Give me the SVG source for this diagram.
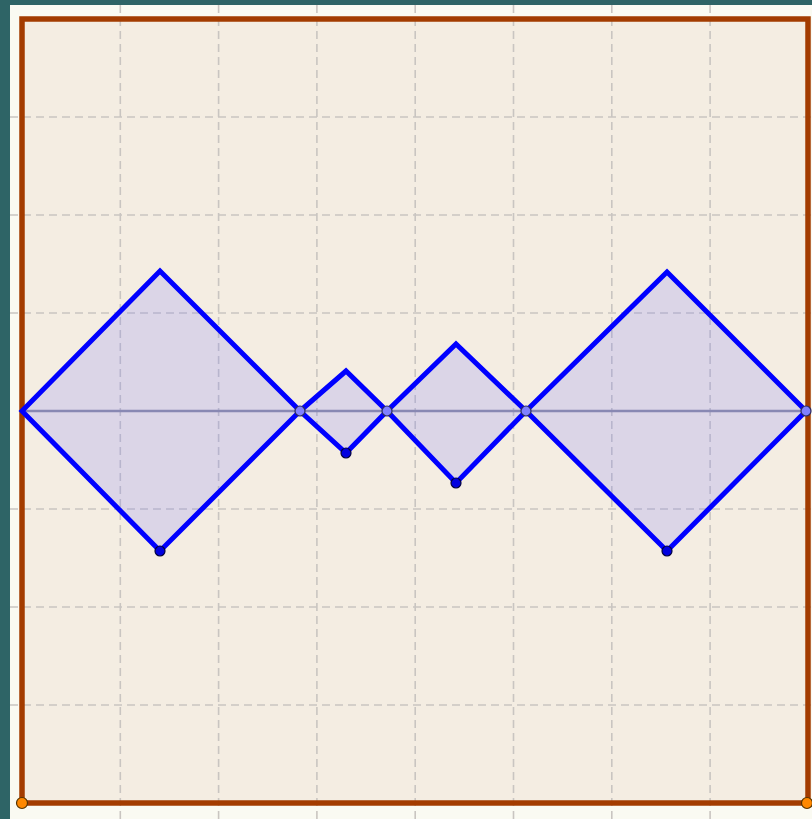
<svg xmlns="http://www.w3.org/2000/svg" width="812" height="819" viewBox="0 0 812 819">
<style>
.grid{stroke:#c9c5c1;stroke-width:1.6;stroke-dasharray:8 5;fill:none}
.frame{stroke:#a33c00;stroke-width:5.5;fill:none;stroke-linecap:square}
.dia{fill:rgb(120,120,255);fill-opacity:0.2;stroke:#0000ff;stroke-width:5;stroke-linejoin:miter}
.axis{stroke:#8c8ca0;stroke-width:2.5}
.pt{fill:#8080ff;stroke:#2a2a60;stroke-width:1.2}
.bp{fill:#0000e0;stroke:#000040;stroke-width:1.2}
.op{fill:#ff8800;stroke:#553300;stroke-width:1.2}
</style>
<rect x="0" y="0" width="812" height="819" fill="#2e6466"/>
<rect x="10" y="5" width="802" height="814" fill="#fafaf2"/>
<rect x="22" y="19" width="786" height="784" fill="#f4ede2"/>
<g id="grid" class="grid">
<line x1="120.3" y1="5" x2="120.3" y2="819"/>
<line x1="218.6" y1="5" x2="218.6" y2="819"/>
<line x1="316.9" y1="5" x2="316.9" y2="819"/>
<line x1="415.2" y1="5" x2="415.2" y2="819"/>
<line x1="513.5" y1="5" x2="513.5" y2="819"/>
<line x1="611.8" y1="5" x2="611.8" y2="819"/>
<line x1="710.1" y1="5" x2="710.1" y2="819"/>
<line x1="10" y1="117" x2="812" y2="117"/>
<line x1="10" y1="215" x2="812" y2="215"/>
<line x1="10" y1="313" x2="812" y2="313"/>
<line x1="10" y1="509" x2="812" y2="509"/>
<line x1="10" y1="607" x2="812" y2="607"/>
<line x1="10" y1="705" x2="812" y2="705"/>
</g>
<g id="frame">
<path class="frame" d="M22 803 L22 19 L808 19 L808 803 Z"/>
</g>
<g id="connectors">
<line id="axis" class="axis" x1="22" y1="411" x2="808" y2="411"/>
</g>
<g id="diamond1"><polygon class="dia" points="22,411 160,271 300,411 160,551"/></g>
<g id="diamond2"><polygon class="dia" points="300,411 346,371 387,411 346,453"/></g>
<g id="diamond3"><polygon class="dia" points="387,411 456,344 526,411 456,483"/></g>
<g id="diamond4"><polygon class="dia" points="526,411 667,272 806,411 667,551"/></g>
<g id="points">
<circle class="pt" cx="300" cy="411" r="5"/>
<circle class="pt" cx="387" cy="411" r="5"/>
<circle class="pt" cx="526" cy="411" r="5"/>
<circle class="pt" cx="806" cy="411" r="5"/>
<circle class="bp" cx="160" cy="551" r="5"/>
<circle class="bp" cx="346" cy="453" r="5"/>
<circle class="bp" cx="456" cy="483" r="5"/>
<circle class="bp" cx="667" cy="551" r="5"/>
<circle class="op" cx="22" cy="803" r="5.5"/>
<circle class="op" cx="807" cy="803" r="5.5"/>
</g>
</svg>
